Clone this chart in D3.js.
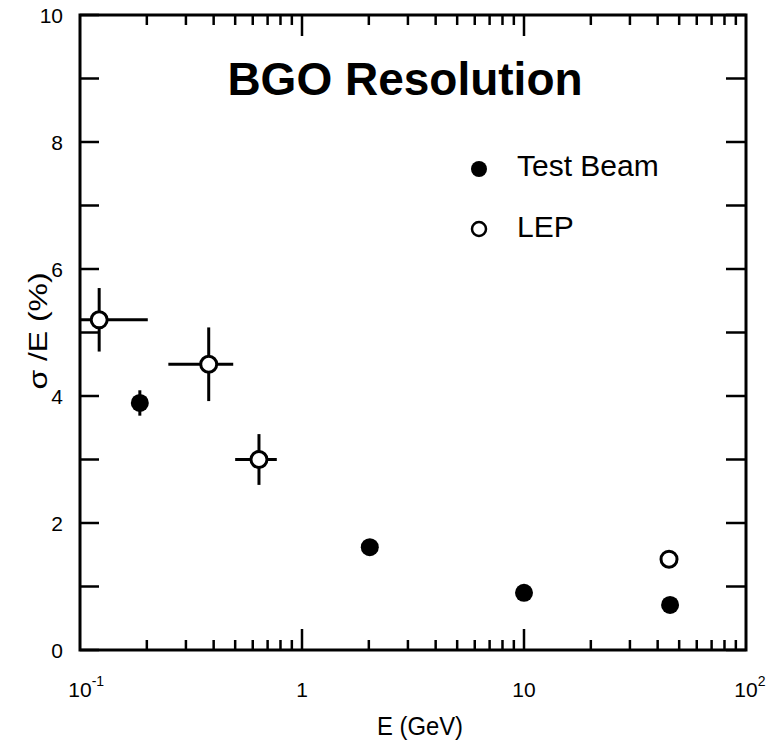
<!DOCTYPE html>
<html>
<head>
<meta charset="utf-8">
<script src="https://cdn.jsdelivr.net/npm/d3@7"></script>
<style>
  body { margin: 0; background: #fff; }
  svg { display: block; font-family: "Liberation Sans", Arial, sans-serif; }
</style>
</head>
<body>
<div id="chart"></div>
<script>
// data
var testBeamE   = [0.186, 2.02, 10, 45.5];
var testBeamRes = [3.89, 1.62, 0.9, 0.71];
var testBeamErr = [0.2, 0, 0, 0];

var lepE    = [0.122, 0.38, 0.64, 45];
var lepRes  = [5.2, 4.5, 3.0, 1.43];
var lepErrY = [0.5, 0.58, 0.4, 0];
var lepELo  = [0.1, 0.25, 0.5, 45];
var lepEHi  = [0.202, 0.49, 0.77, 45];

var yTicks = [0, 1, 2, 3, 4, 5, 6, 7, 8, 9, 10];
var yLabels = [0, 2, 4, 6, 8, 10];
var xMajor = [0.1, 1, 10, 100];
var xLabels = [["10", "-1"], ["1", ""], ["10", ""], ["10", "2"]];

var W = 777, H = 753;
var L = 80, R = 746, T = 15, B = 650;

var svg = d3.select("#chart").append("svg")
	.attr("width", W)
	.attr("height", H);

var x = d3.scaleLog().domain([0.1, 100]).range([L, R]);
var y = d3.scaleLinear().domain([0, 10]).range([B, T]);

// frame first, ticks on top of it
svg.append("rect")
	.attr("x", L).attr("y", T)
	.attr("width", R - L).attr("height", B - T)
	.attr("fill", "none")
	.attr("stroke", "#000")
	.attr("stroke-width", 3);

// log ticks: 2..9 short, 1 and 10 long
var xTicks = [];
[0.1, 1, 10].forEach(function(d) {
	for (var k = 2; k <= 9; k++) xTicks.push({ v: d * k, len: 10 });
});
xTicks.push({ v: 1, len: 21 });
xTicks.push({ v: 10, len: 21 });

var tk = svg.append("g").attr("class", "ticks");
// bottom and top, pointing inward
tk.selectAll("line.xb").data(xTicks).enter().append("line")
	.attr("class", "xb")
	.attr("x1", function(d) { return x(d.v); })
	.attr("x2", function(d) { return x(d.v); })
	.attr("y1", B)
	.attr("y2", function(d) { return B - d.len; })
	.attr("stroke", "#000").attr("stroke-width", 2.5);
tk.selectAll("line.xt").data(xTicks).enter().append("line")
	.attr("class", "xt")
	.attr("x1", function(d) { return x(d.v); })
	.attr("x2", function(d) { return x(d.v); })
	.attr("y1", T)
	.attr("y2", function(d) { return T + d.len; })
	.attr("stroke", "#000").attr("stroke-width", 2.5);
// left and right
tk.selectAll("line.yl").data(yTicks).enter().append("line")
	.attr("class", "yl")
	.attr("x1", L).attr("x2", L + 19)
	.attr("y1", function(d) { return y(d); })
	.attr("y2", function(d) { return y(d); })
	.attr("stroke", "#000").attr("stroke-width", 2.5);
tk.selectAll("line.yr").data(yTicks).enter().append("line")
	.attr("class", "yr")
	.attr("x1", R - 20).attr("x2", R)
	.attr("y1", function(d) { return y(d); })
	.attr("y2", function(d) { return y(d); })
	.attr("stroke", "#000").attr("stroke-width", 2.5);

// y tick labels
svg.selectAll("text.ylab").data(yLabels).enter().append("text")
	.attr("class", "ylab")
	.attr("x", 63)
	.attr("y", function(d) { return y(d) + 8; })
	.attr("text-anchor", "end")
	.attr("font-size", 21)
	.text(function(d) { return d; });

// x tick labels, base centred on the tick, exponent hanging right
xMajor.forEach(function(v, i) {
	var t = svg.append("text")
		.attr("y", 697)
		.attr("font-size", 21);
	var base = t.append("tspan").text(xLabels[i][0]);
	if (xLabels[i][1]) {
		t.append("tspan")
			.attr("font-size", 14)
			.attr("dy", -11)
			.text(xLabels[i][1]);
	}
	var bw = base.node().getComputedTextLength();
	t.attr("x", x(v) - bw / 2);
});

// axis titles
svg.append("text")
	.attr("x", 420).attr("y", 735)
	.attr("text-anchor", "middle")
	.attr("font-size", 26)
	.attr("textLength", 86)
	.attr("lengthAdjust", "spacingAndGlyphs")
	.text("E (GeV)");

svg.append("text")
	.attr("transform", "translate(47,331) rotate(-90)")
	.attr("text-anchor", "middle")
	.attr("font-size", 26)
	.attr("textLength", 117)
	.attr("lengthAdjust", "spacingAndGlyphs")
	.text("σ /E (%)");

// chart title
svg.append("text")
	.attr("x", 405).attr("y", 95)
	.attr("text-anchor", "middle")
	.attr("font-size", 46)
	.attr("font-weight", "bold")
	.text("BGO Resolution");

// legend
svg.append("circle").attr("cx", 479).attr("cy", 169).attr("r", 8).attr("fill", "#000");
svg.append("text").attr("x", 517).attr("y", 176).attr("font-size", 30).text("Test Beam");
svg.append("circle").attr("cx", 479).attr("cy", 229).attr("r", 7)
	.attr("fill", "#fff").attr("stroke", "#000").attr("stroke-width", 2.5);
svg.append("text").attr("x", 517).attr("y", 237).attr("font-size", 30).text("LEP");

// error bars
var lep = lepE.map(function(e, i) {
	return { e: e, r: lepRes[i], ey: lepErrY[i], lo: lepELo[i], hi: lepEHi[i] };
});
var tb = testBeamE.map(function(e, i) {
	return { e: e, r: testBeamRes[i], ey: testBeamErr[i] };
});

var eb = svg.append("g").attr("stroke", "#000").attr("stroke-width", 3);
eb.selectAll("line.lh").data(lep.filter(function(d) { return d.hi > d.lo; })).enter().append("line")
	.attr("class", "lh")
	.attr("x1", function(d) { return x(d.lo); })
	.attr("x2", function(d) { return x(d.hi); })
	.attr("y1", function(d) { return y(d.r); })
	.attr("y2", function(d) { return y(d.r); });
eb.selectAll("line.lv").data(lep.filter(function(d) { return d.ey > 0; })).enter().append("line")
	.attr("class", "lv")
	.attr("x1", function(d) { return x(d.e); })
	.attr("x2", function(d) { return x(d.e); })
	.attr("y1", function(d) { return y(d.r + d.ey); })
	.attr("y2", function(d) { return y(d.r - d.ey); });
eb.selectAll("line.tv").data(tb.filter(function(d) { return d.ey > 0; })).enter().append("line")
	.attr("class", "tv")
	.attr("x1", function(d) { return x(d.e); })
	.attr("x2", function(d) { return x(d.e); })
	.attr("y1", function(d) { return y(d.r + d.ey); })
	.attr("y2", function(d) { return y(d.r - d.ey); });

// markers
svg.selectAll("circle.tb").data(tb).enter().append("circle")
	.attr("class", "tb")
	.attr("cx", function(d) { return x(d.e); })
	.attr("cy", function(d) { return y(d.r); })
	.attr("r", 9)
	.attr("fill", "#000");

svg.selectAll("circle.lep").data(lep).enter().append("circle")
	.attr("class", "lep")
	.attr("cx", function(d) { return x(d.e); })
	.attr("cy", function(d) { return y(d.r); })
	.attr("r", 8)
	.attr("fill", "#fff")
	.attr("stroke", "#000")
	.attr("stroke-width", 3);
</script>
</body>
</html>
